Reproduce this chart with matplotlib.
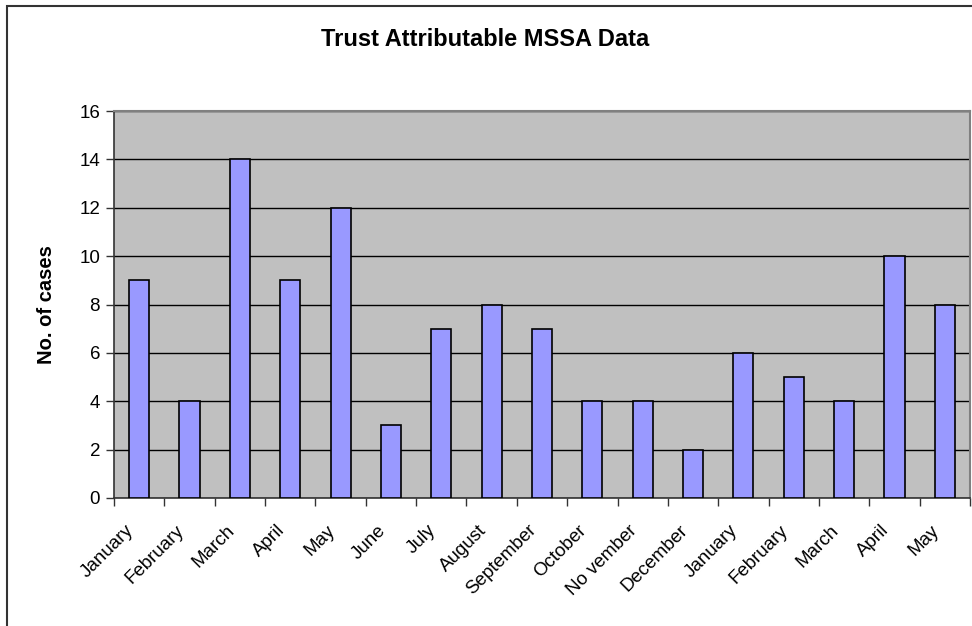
import numpy as np
import matplotlib
matplotlib.use('Agg')
import matplotlib.pyplot as plt
from matplotlib.patches import Rectangle
from matplotlib.transforms import ScaledTranslation

plt.rcParams['font.family'] = ['Liberation Sans', 'DejaVu Sans']

# データ
months = ['January', 'February', 'March', 'April', 'May', 'June', 'July',
          'August', 'September', 'October', 'No vember', 'December',
          'January', 'February', 'March', 'April', 'May']
cases = [9, 4, 14, 9, 12, 3, 7, 8, 7, 4, 4, 2, 6, 5, 4, 10, 8]

fig = plt.figure(figsize=(9.72, 6.26), dpi=100)
ax = fig.add_axes([114 / 972, 1 - 498 / 626, (970 - 114) / 972, (498 - 111) / 626])

# 外枠
fig.patches.append(Rectangle((7 / 972, -0.1), 1.2, 1 - 6 / 626 + 0.1,
                             transform=fig.transFigure, fill=False,
                             edgecolor='#333333', linewidth=1.5))

x = np.arange(len(months))
ax.set_facecolor('#C0C0C0')
ax.bar(x, cases, width=0.4, color='#9999FF', edgecolor='black', linewidth=1.2, zorder=3)

ax.set_xlim(-0.5, len(months) - 0.5)
ax.set_ylim(0, 16)
ax.set_yticks(range(0, 17, 2))
ax.yaxis.grid(True, color='black', linewidth=1, zorder=1)
ax.set_axisbelow(True)

# 目盛りは区切り位置に
ax.set_xticks(np.arange(-0.5, len(months), 1))
ax.set_xticklabels([])
ax.set_xticks(x, minor=True)
ax.set_xticklabels(months, minor=True, rotation=45, ha='right',
                   rotation_mode='anchor', fontsize=13.5)
ax.tick_params(axis='x', which='minor', length=0, pad=17)
ax.tick_params(axis='x', which='major', length=6, width=1, color='#333333')
ax.tick_params(axis='y', length=6, width=1, labelsize=13.5, pad=4, color='#333333')

# ラベルを少し左へずらす
shift = ScaledTranslation(-14 / 100, 0, fig.dpi_scale_trans)
for lbl in ax.get_xticklabels(minor=True):
    lbl.set_transform(lbl.get_transform() + shift)

for s in ['top', 'right']:
    ax.spines[s].set_color('#808080')
    ax.spines[s].set_linewidth(1.5)
for s in ['left', 'bottom']:
    ax.spines[s].set_color('#333333')
    ax.spines[s].set_linewidth(1.2)

ax.set_ylabel('No. of cases', fontsize=14.5, fontweight='bold', labelpad=17)
fig.text(485 / 972, 1 - 40 / 626, 'Trust Attributable MSSA Data', ha='center',
         va='center', fontsize=17, fontweight='bold')

fig.savefig('out.png', dpi=100)
